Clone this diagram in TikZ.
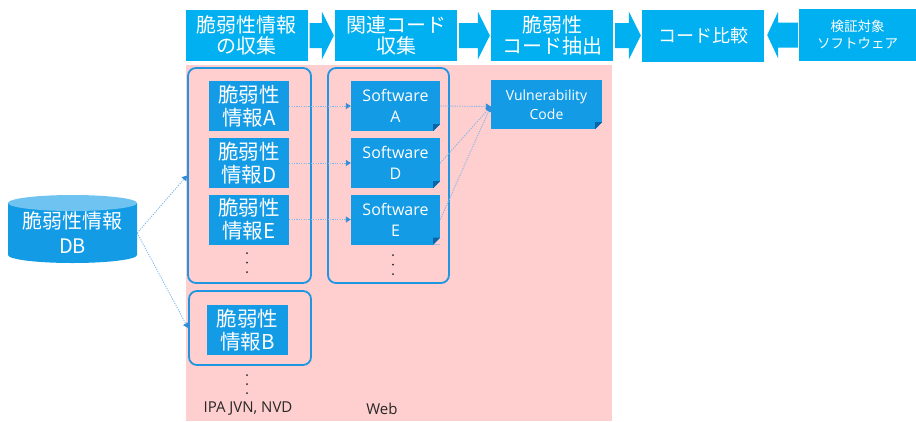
\documentclass[tikz,border=0pt]{standalone}
\usepackage{fontspec}
\setmainfont{Noto Sans CJK JP}
\newfontfamily\latinfont{Open Sans}
\usetikzlibrary{arrows.meta,calc}

\definecolor{hdrblue}{RGB}{0,176,240}
\definecolor{inblue}{RGB}{20,155,230}
\definecolor{framblue}{RGB}{30,150,225}
\definecolor{foldblue}{RGB}{10,100,170}
\definecolor{pinkbg}{RGB}{255,206,206}
\definecolor{linkblue}{RGB}{130,185,235}
\definecolor{tipblue}{RGB}{50,140,215}
\definecolor{dbtop}{RGB}{110,195,240}
\definecolor{labelgray}{RGB}{40,40,40}

% folded corner at the lower right of a document box
\newcommand\foldcorner[1]{%
  \fill[pinkbg] (#1.south east) -- ++(-7pt,0pt) -- ++(7pt,7pt) -- cycle;
  \fill[foldblue] ([xshift=-7pt]#1.south east) -- ++(7pt,7pt) -- ++(-7pt,0pt) -- cycle;}

% block arrow from one header box to the next (pointing right)
\newcommand\blkarrow[2]{%
  \fill[hdrblue] let \p1=(#1.east), \p2=(#2.west) in
    (\x1+2pt,\y1+12.5pt) -- (\x2-13pt,\y1+12.5pt) -- (\x2-13pt,\y1+24pt)
    -- (\x2-1pt,\y1) -- (\x2-13pt,\y1-24pt) -- (\x2-13pt,\y1-12.5pt)
    -- (\x1+2pt,\y1-12.5pt) -- cycle;}

% block arrow pointing left, from #1 into #2
\newcommand\blkarrowleft[2]{%
  \fill[hdrblue] let \p1=(#1.west), \p2=(#2.east) in
    (\x1-1pt,\y1+12.5pt) -- (\x2+14pt,\y1+12.5pt) -- (\x2+14pt,\y1+23.5pt)
    -- (\x2+3pt,\y1) -- (\x2+14pt,\y1-23.5pt) -- (\x2+14pt,\y1-12.5pt)
    -- (\x1-1pt,\y1-12.5pt) -- cycle;}

\tikzset{
  hdr/.style={fill=hdrblue, text=white, minimum width=122pt, minimum height=51pt,
    inner sep=0pt, align=center, font=\fontsize{20}{21.5}\selectfont},
  info/.style={fill=inblue, text=white, minimum width=80pt, minimum height=50pt,
    inner sep=0pt, align=center, font=\fontsize{20.5}{23}\selectfont},
  soft/.style={fill=inblue, text=white, minimum width=89pt, minimum height=50pt,
    inner sep=0pt, align=center, font=\latinfont\fontsize{16}{21}\selectfont},
  cont/.style={draw=framblue, line width=1.8pt, rounded corners=8pt, inner sep=0pt},
  dotlink/.style={draw=linkblue, line width=0.9pt, dash pattern=on 1.2pt off 1.2pt,
    -{Triangle[length=5pt,width=6pt,color=tipblue]}},
  lbl/.style={text=labelgray, inner sep=0pt, font=\latinfont\fontsize{15}{17}\selectfont},
  vdot/.style={fill=labelgray}
}

\begin{document}
\begin{tikzpicture}[x=1pt,y=-1pt]
\useasboundingbox (0,0) rectangle (916,421);

% pink working area
\fill[pinkbg] (186,65) rectangle (612,421);

% process header
\node[hdr] (h1) at (246.5,35.5) {脆弱性情報\\の収集};
\node[hdr] (h2) at (396,35.5) {関連コード\\収集};
\node[hdr] (h3) at (552,35.5) {脆弱性\\コード抽出};
\node[hdr, minimum height=52pt, font=\fontsize{18}{20}\selectfont] (h4) at (703,36) {コード比較};
\node[hdr, minimum width=117pt, minimum height=52pt, font=\fontsize{13.5}{17}\selectfont] (h5) at (857.5,35) {検証対象\\ソフトウェア};
\blkarrow{h1}{h2}
\blkarrow{h2}{h3}
\blkarrow{h3}{h4}
\blkarrowleft{h5}{h4}

% containers
\node[cont, minimum width=123pt, minimum height=215pt] (c1) at (249.5,175.5) {};
\node[cont, minimum width=121pt, minimum height=215pt] (c2) at (388.5,175.5) {};
\node[cont, minimum width=122pt, minimum height=74pt] (c3) at (250,328) {};

% vulnerability information
\node[info] (iA) at (249,106) {脆弱性\\情報A};
\node[info] (iD) at (249,163) {脆弱性\\情報D};
\node[info] (iE) at (249,219.5) {脆弱性\\情報E};
\node[info, minimum width=81pt] (iB) at (247.5,330) {脆弱性\\情報B};

% software
\node[soft] (sA) at (395.5,106) {Software\\A};
\node[soft] (sD) at (395.5,163) {Software\\D};
\node[soft] (sE) at (395.5,219.5) {Software\\E};
\foldcorner{sA}
\foldcorner{sD}
\foldcorner{sE}

% extracted code
\node[soft, minimum width=111pt, minimum height=49pt, font=\latinfont\fontsize{14}{19}\selectfont] (v) at (546.5,104.5) {Vulnerability\\Code};
\foldcorner{v}
\coordinate (vin) at ([yshift=-2pt]v.west);

% continuation dots
\foreach \y in {253,262.5,272} \fill[vdot] (247,\y) circle (1pt);
\foreach \y in {375,384,393} \fill[vdot] (247,\y) circle (1pt);
\foreach \y in {255,264.5,274} \fill[vdot] (393,\y) circle (1pt);

% database
\fill[inblue] (8,203) -- (8,255)
  arc[start angle=180, end angle=360, x radius=64.5pt, y radius=8pt]
  -- (137,203) -- cycle;
\fill[dbtop] (72.5,203) ellipse[x radius=64.5pt, y radius=8pt];
\node[text=white, inner sep=0pt, minimum width=129pt, minimum height=52pt, align=center,
  font=\fontsize{20}{25}\selectfont] (db) at (72.5,233) {脆弱性情報\\DB};

% source labels
\node[lbl] (l1) at (248,409) {IPA JVN, NVD};
\node[lbl] (l2) at (382,409) {Web};

% links
\draw[dotlink] (db.east) -- (c1.west);
\draw[dotlink] (db.east) -- (c3.west);
\draw[dotlink] (iA.east) -- (sA.west);
\draw[dotlink] (iD.east) -- (sD.west);
\draw[dotlink] (iE.east) -- (sE.west);
\draw[dotlink] (sA.east) -- (vin);
\draw[dotlink] (sD.east) -- (vin);
\draw[dotlink] (sE.east) -- (vin);
\end{tikzpicture}
\end{document}
